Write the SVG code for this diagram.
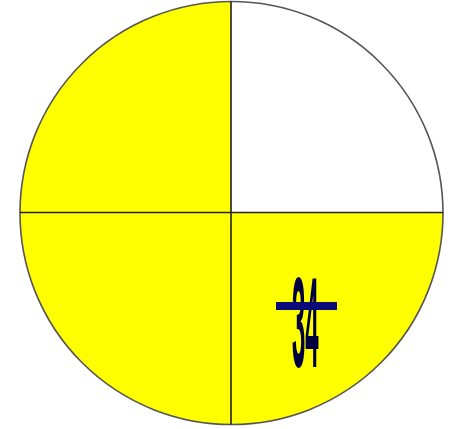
<svg xmlns="http://www.w3.org/2000/svg" width="454" height="429" viewBox="0 0 454 429">
<style>
.q{stroke:none}
.ln{stroke:#222;stroke-width:1.6;fill:none}
</style>
<rect width="454" height="429" fill="#fff"/>
<g id="pie">
<circle cx="231.5" cy="213" r="211.5" fill="#ffff00" class="q"/>
<path d="M231.5,213 L231.5,1.5 A211.5,211.5 0 0 1 443,213 Z" fill="#fff" class="q"/>
<circle cx="231.5" cy="213" r="211.5" fill="none" stroke="#555" stroke-width="1.6"/>
<line class="ln" x1="20" y1="212.5" x2="443" y2="212.5"/>
<line class="ln" x1="231" y1="1.5" x2="231" y2="424.5"/>
</g>
<g id="label">
<text transform="translate(292,367) scale(0.6,3.2)" font-family="Liberation Sans, Arial, sans-serif" font-size="40" font-weight="bold" fill="#000040">34</text>
<rect x="276" y="302" width="61" height="8" fill="#0a0a78"/>
</g>
</svg>
